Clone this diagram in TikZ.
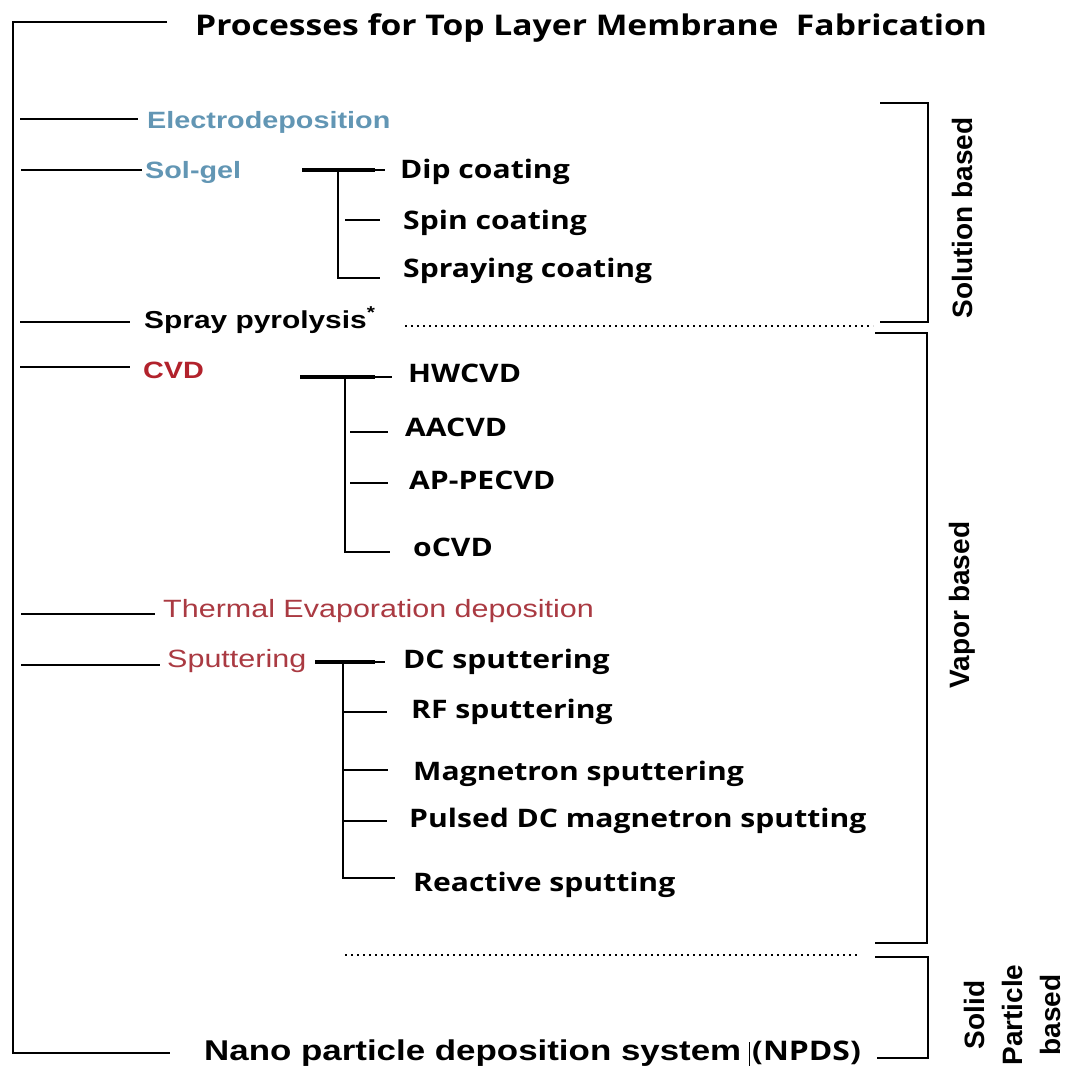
\documentclass[tikz,border=0pt]{standalone}
\usepackage{fontspec}
\setmainfont{Liberation Sans}
\newfontfamily\wideArial[FakeStretch=1.22]{Liberation Sans}
\newfontfamily\wideOpen[FakeStretch=1.18]{Open Sans}
\definecolor{solblue}{RGB}{98,150,180}
\definecolor{cvdred}{RGB}{178,34,44}
\definecolor{vapred}{RGB}{170,58,66}

\tikzset{
	ttl/.style={anchor=base west, inner sep=0pt, font=\wideOpen\bfseries\fontsize{28.5}{32}\selectfont},
	proc/.style={anchor=base west, inner sep=0pt, font=\wideArial\bfseries\fontsize{23.6}{26}\selectfont},
	procthin/.style={anchor=base west, inner sep=0pt, font=\wideArial\fontsize{25}{28}\selectfont},
	subproc/.style={anchor=base west, inner sep=0pt, font=\wideOpen\bfseries\fontsize{25.5}{28}\selectfont},
	side/.style={rotate=90, inner sep=0pt, align=center, font=\bfseries\fontsize{28}{38}\selectfont},
	trunk/.style={line width=2.8pt},
	link/.style={line width=2.4pt},
	fork/.style={line width=3.6pt},
	dots/.style={line width=1.6pt, dash pattern=on 1.6pt off 4.4pt}
}

\begin{document}
\begin{tikzpicture}[x=1pt, y=-1pt]
	\useasboundingbox (0,0) rectangle (1067,1066);

	% title and bottom entry
	\node[ttl] (title) at (195,35) {Processes for Top Layer Membrane\ \ Fabrication};
	\node[anchor=base west, inner sep=0pt, font=\wideArial\bfseries\fontsize{28.6}{31}\selectfont] (npds) at (204,1060) {Nano particle deposition system};
	\node[anchor=base west, inner sep=0pt, font=\wideOpen\bfseries\fontsize{27}{30}\selectfont] (npdsb) at (752,1060) {(NPDS)};
	\draw[line width=0.8pt] (749,1042) -- (749,1066);

	% trunk
	\coordinate (ttop) at (13,22);
	\coordinate (tbot) at (13,1053);
	\draw[trunk] (167,22) -- (ttop) -- (tbot) -- (170,1053);

	% first level
	\node[proc, text=solblue] (electro) at (147,128) {Electrodeposition};
	\node[proc, text=solblue] (solgel) at (145,178) {Sol-gel};
	\node[anchor=base west, inner sep=0pt, font=\wideArial\bfseries\fontsize{24.5}{27}\selectfont] (spray) at (144,328) {Spray pyrolysis\textsuperscript{*}};
	\node[proc, text=cvdred] (cvd) at (143,378) {CVD};
	\node[procthin, text=vapred] (thermal) at (163,617) {Thermal Evaporation deposition};
	\node[procthin, text=vapred] (sputter) at (167,667) {Sputtering};

	\draw[link] (20,119) -- (138,119);
	\draw[link] (21,170) -- (142,170);
	\draw[link] (20,322) -- (130,322);
	\draw[link] (20,367) -- (130,367);
	\draw[link] (21,614) -- (155,614);
	\draw[link] (21,665) -- (160,665);

	% sol-gel
	\node[subproc] (dip) at (400,178) {Dip coating};
	\node[subproc] (spin) at (403,229) {Spin coating};
	\node[subproc] (sprc) at (403,277) {Spraying coating};
	\coordinate (sgfork) at (338,170);
	\draw[fork] (302,170) -- (375,170);
	\draw[link] (375,170) -- (385,170);
	\draw[link] (sgfork) -- (338,278) -- (380,278);
	\draw[link] (345,220) -- (380,220);

	% cvd
	\node[subproc] (hw) at (408,382) {HWCVD};
	\node[subproc] (aa) at (405,436) {AACVD};
	\node[subproc] (ap) at (409,489) {AP-PECVD};
	\node[subproc] (oc) at (413,556) {oCVD};
	\coordinate (cvdfork) at (345,377);
	\draw[fork] (300,377) -- (375,377);
	\draw[link] (375,377) -- (392,377);
	\draw[link] (cvdfork) -- (345,552) -- (390,552);
	\draw[link] (350,432) -- (388,432);
	\draw[link] (350,483) -- (388,483);

	% sputtering
	\node[subproc] (dc) at (403,668) {DC sputtering};
	\node[subproc] (rf) at (411,718) {RF sputtering};
	\node[subproc] (mag) at (413,780) {Magnetron sputtering};
	\node[subproc] (pul) at (409,827) {Pulsed DC magnetron sputting};
	\node[subproc] (rea) at (413,891) {Reactive sputting};
	\coordinate (spfork) at (343,662);
	\draw[fork] (315,662) -- (375,662);
	\draw[link] (375,662) -- (385,662);
	\draw[link] (spfork) -- (343,878) -- (395,878);
	\draw[link] (343,712) -- (387,712);
	\draw[link] (343,770) -- (388,770);
	\draw[link] (343,821) -- (387,821);

	% dotted separators
	\draw[dots] (405,326) -- (873,326);
	\draw[dots] (345,955) -- (857,955);

	% brackets
	\draw[trunk] (880,103) -- (928,103) -- (928,322) -- (880,322);
	\draw[trunk] (875,333) -- (927,333) -- (927,943) -- (875,943);
	\draw[trunk] (875,957) -- (928,957) -- (928,1058) -- (877,1058);
	\node[side] (solut) at (962,218) {Solution based};
	\node[side] (vapor) at (962,605) {Vapor based};
	\node[side] (solid) at (1012,1015) {Solid\\Particle\\based};
\end{tikzpicture}
\end{document}
